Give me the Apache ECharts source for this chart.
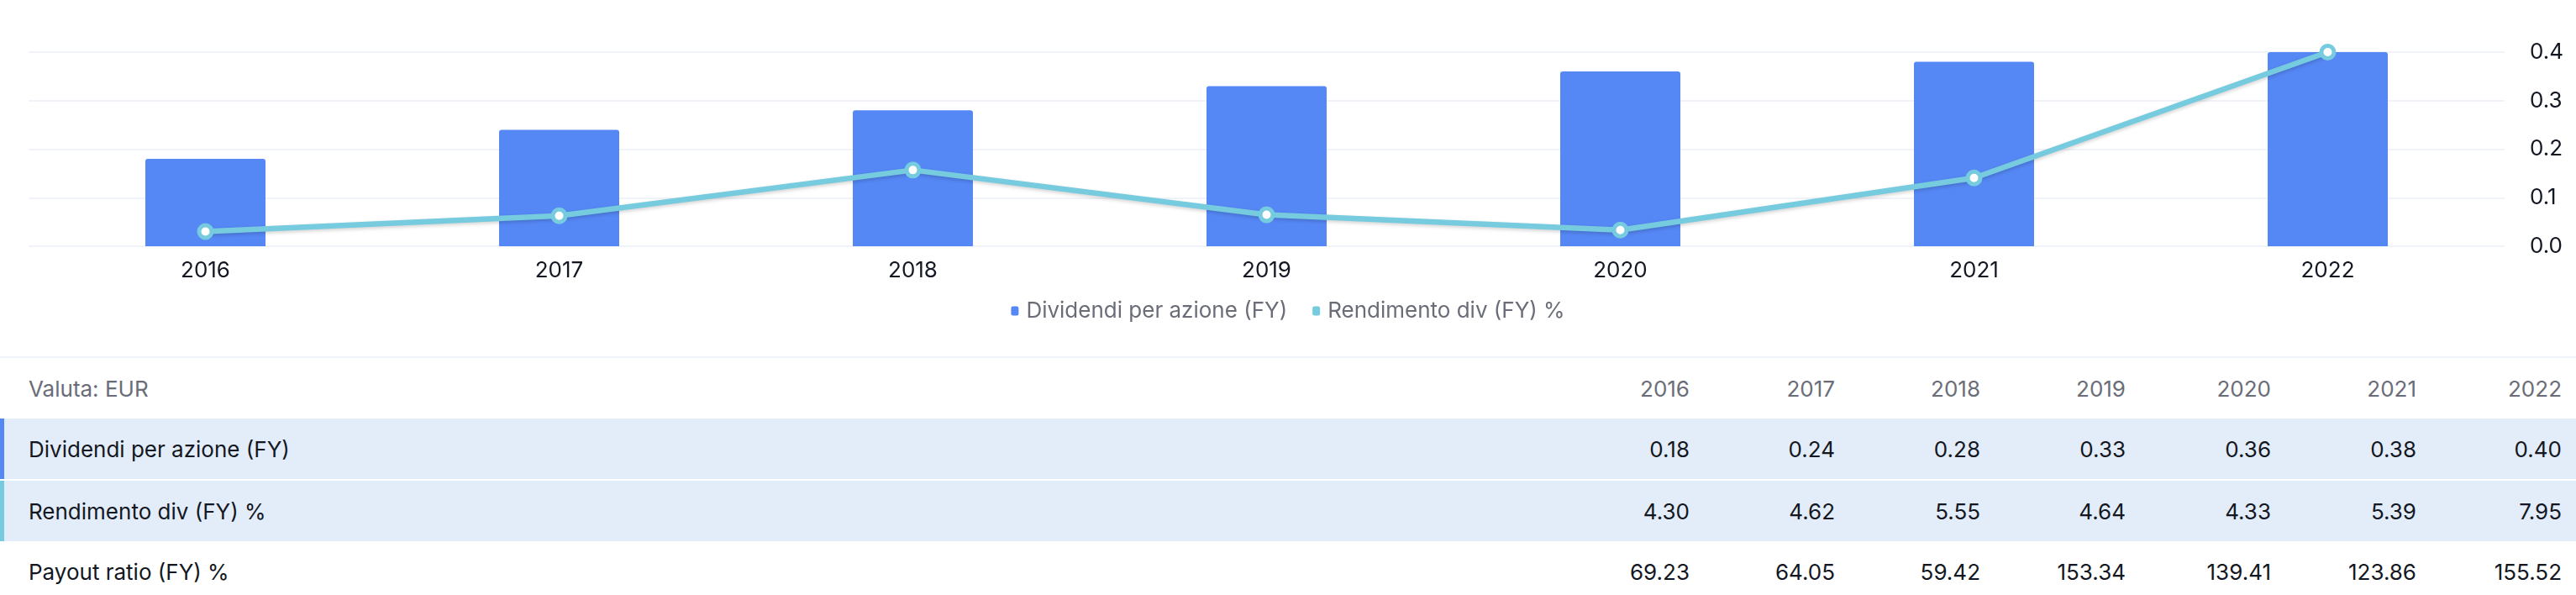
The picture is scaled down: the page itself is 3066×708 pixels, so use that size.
<!DOCTYPE html>
<html>
<head>
<meta charset="utf-8">
<script src="https://cdn.jsdelivr.net/npm/echarts@6/dist/echarts.min.js"></script>
<style>
  html, body { margin: 0; padding: 0; background: #fff; }
  body { width: 3066px; height: 708px; overflow: hidden; font-family: Inter, Roboto, sans-serif; }
  #chart { width: 3066px; height: 424px; }
  #table { width: 3066px; border-top: 2px solid #F0F3FA; box-sizing: border-box; }
  .row { position: relative; height: 72px; display: flex; align-items: center; font-size: 26px; color: #131722; }
  .row.hl { background: #E3EDFA; }
  .row.sep { border-top: 2px solid #fff; }
  .row .mark { position: absolute; left: 0; top: 0; bottom: 0; width: 5px; }
  .row .name { flex: 1; padding-left: 34px; }
  .row .val { width: 173px; text-align: right; }
  .row .pad { width: 17px; }
  .row.head { height: 72px; color: #6A6D78; }
</style>
</head>
<body>
<div id="chart"></div>
<div id="table"></div>
<script>
// anni fiscali
var years = ['2016', '2017', '2018', '2019', '2020', '2021', '2022'];
// dividendi per azione (EUR)
var dividends = [0.18, 0.24, 0.28, 0.33, 0.36, 0.38, 0.40];
// rendimento dividendo %
var yieldPct = [4.30, 4.62, 5.55, 4.64, 4.33, 5.39, 7.95];
// payout ratio %
var payout = [69.23, 64.05, 59.42, 153.34, 139.41, 123.86, 155.52];

var currencyLabel = 'Valuta: EUR';
var divName = 'Dividendi per azione (FY)';
var yieldName = 'Rendimento div (FY) %';
var payoutName = 'Payout ratio (FY) %';

var barColor = '#5587F5';
var lineColor = '#76CBDE';

//grafico
function showChart(){
	var myChart = echarts.init(document.getElementById('chart'));
	var option = {
		animation: false,
		textStyle: { fontFamily: 'Inter, Roboto, sans-serif' },
		legend: {
			top: 352,
			left: 'center',
			icon: 'roundRect',
			itemWidth: 9,
			itemHeight: 11,
			itemGap: 30,
			textStyle: { color: '#6A6D78', fontSize: 26, padding: [0, 0, 0, 4] },
			data: [
				{ name: divName, itemStyle: { color: barColor } },
				{ name: yieldName, itemStyle: { color: lineColor, borderWidth: 0 } }
			]
		},
		grid: { left: 34, right: 85, top: 62, bottom: 131 },
		xAxis: {
			type: 'category',
			data: years,
			axisLine: { show: false },
			axisTick: { show: false },
			axisLabel: { color: '#131722', fontSize: 26, margin: 16 }
		},
		yAxis: [
			{
				type: 'value',
				position: 'right',
				min: 0,
				max: 0.4,
				interval: 0.1,
				axisLine: { show: false },
				axisTick: { show: false },
				splitLine: { lineStyle: { color: '#F0F3FA', width: 2 } },
				axisLabel: {
					color: '#131722', fontSize: 26, margin: 30,
					formatter: function(v){ return v.toFixed(1); }
				}
			},
			{
				type: 'value',
				min: 4,
				max: 7.95,
				show: false,
				splitLine: { show: false }
			}
		],
		series: [
			{
				name: divName,
				type: 'bar',
				data: dividends,
				barWidth: 143,
				itemStyle: { color: barColor, borderRadius: [3, 3, 0, 0] }
			},
			{
				name: yieldName,
				type: 'line',
				yAxisIndex: 1,
				data: yieldPct,
				symbol: 'circle',
				symbolSize: 15,
				itemStyle: { color: '#fff', borderColor: lineColor, borderWidth: 5 },
				lineStyle: {
					color: lineColor, width: 6.5,
					shadowColor: 'rgba(0,0,0,0.18)', shadowBlur: 4, shadowOffsetY: 2
				}
			}
		]
	};
	myChart.setOption(option);
}

//tabella
function makeRow(cls, mark, name, vals){
	var html = '<div class="row ' + cls + '">';
	if (mark) html += '<div class="mark" style="background:' + mark + '"></div>';
	html += '<div class="name">' + name + '</div>';
	for (var i = 0; i < vals.length; i++) {
		html += '<div class="val">' + vals[i] + '</div>';
	}
	html += '<div class="pad"></div></div>';
	return html;
}

function showTable(){
	var fmt = function(v){ return v.toFixed(2); };
	var html = '';
	html += makeRow('head', null, currencyLabel, years);
	html += makeRow('hl', barColor, divName, dividends.map(fmt));
	html += makeRow('hl sep', lineColor, yieldName, yieldPct.map(fmt));
	html += makeRow('', null, payoutName, payout.map(fmt));
	document.getElementById('table').innerHTML = html;
}

showChart();
showTable();
</script>
</body>
</html>
